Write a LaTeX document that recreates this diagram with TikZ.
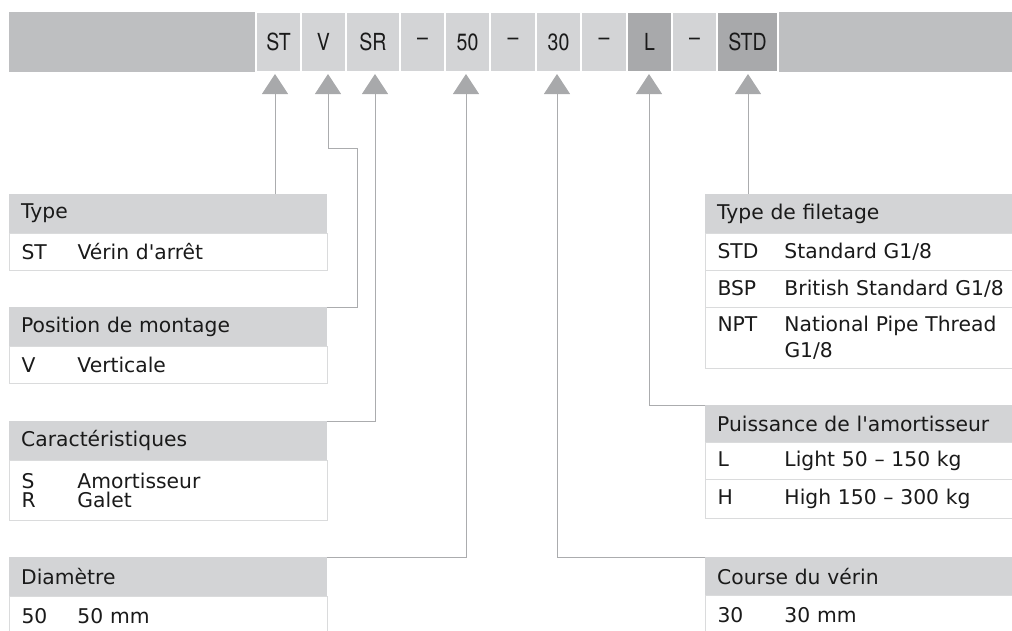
\documentclass[tikz,border=0pt]{standalone}
\usepackage{fontspec}
\setmainfont[Ligatures=TeXOff]{DejaVu Sans}
\newfontfamily\codefont[FakeStretch=0.83]{TeX Gyre Heros}
\usetikzlibrary{arrows.meta}

\definecolor{barGray}{HTML}{BEBFC1}
\definecolor{cellGray}{HTML}{D3D4D6}
\definecolor{darkGray}{HTML}{A8A9AB}
\definecolor{lineGray}{HTML}{ABACAE}
\definecolor{rimGray}{HTML}{DADBDC}
\definecolor{inkGray}{HTML}{1A1A1A}

\newcommand{\lcode}[1]{\makebox[56pt][l]{#1}}
\newcommand{\rcode}[1]{\makebox[67pt][l]{#1}}

\begin{document}
\begin{tikzpicture}[x=1pt, y=-1pt, font=\fontsize{20.3}{24}\selectfont, text=inkGray]
	\tikzstyle{cellStyle} = [fill=cellGray, draw=white, line width=1.5pt, minimum height=60pt, inner sep=0pt, font=\codefont\fontsize{23.5}{28}\selectfont]
	\tikzstyle{darkCellStyle} = [cellStyle, fill=darkGray]
	\tikzstyle{headStyle} = [anchor=north west, fill=cellGray, minimum height=39pt, inner xsep=12pt, inner ysep=0pt, text width=294pt, align=left]
	\tikzstyle{rowStyle} = [anchor=north west, fill=white, draw=rimGray, line width=1pt, minimum height=37pt, inner xsep=12pt, inner ysep=0pt, text width=294pt, align=left]
	\tikzstyle{rightHeadStyle} = [headStyle, text width=296pt]
	\tikzstyle{rightRowStyle} = [rowStyle, text width=296pt]
	\tikzstyle{linkStyle} = [draw=lineGray, line width=1pt, -{Triangle[width=26pt, length=20pt, color=darkGray]}]
	\useasboundingbox (0,0) rectangle (1012,630);
	% order code bar
	\fill[barGray] (9,12) rectangle (256,72);
	\fill[barGray] (778,12) rectangle (1013,72);
	\node[cellStyle, minimum width=45pt] (cST) at (278.5,42) {ST};
	\node[cellStyle, minimum width=45pt] (cV) at (323.5,42) {V};
	\node[cellStyle, minimum width=54pt] (cSR) at (373,42) {SR};
	\node[cellStyle, minimum width=45pt] (cDashA) at (422.5,42) {–};
	\node[cellStyle, minimum width=45pt] (c50) at (467.5,42) {50};
	\node[cellStyle, minimum width=46pt] (cDashB) at (513,42) {–};
	\node[cellStyle, minimum width=45pt] (c30) at (558.5,42) {30};
	\node[cellStyle, minimum width=46pt] (cDashC) at (604,42) {–};
	\node[darkCellStyle, minimum width=45pt] (cL) at (649.5,42) {L};
	\node[cellStyle, minimum width=45pt] (cDashD) at (694.5,42) {–};
	\node[darkCellStyle, minimum width=61pt] (cSTD) at (747.5,42) {STD};
	% arrow tips under the code
	\coordinate (tipST) at (275,74);
	\coordinate (tipV) at (328,74);
	\coordinate (tipSR) at (375,74);
	\coordinate (tip50) at (466,74);
	\coordinate (tip30) at (557,74);
	\coordinate (tipL) at (649,74);
	\coordinate (tipSTD) at (748,74);
	% left column
	\node[headStyle] (type) at (9,194) {Type};
	\node[rowStyle] (typeRow) at (9,233) {\lcode{ST}Vérin d'arrêt};
	\node[headStyle] (pos) at (9,307) {Position de montage};
	\node[rowStyle] (posRow) at (9,346) {\lcode{V}Verticale};
	\node[headStyle] (car) at (9,421) {Caractéristiques};
	\node[rowStyle, minimum height=60pt, font=\fontsize{20.3}{19.5}\selectfont] (carRow) at (9,460) {\lcode{S}Amortisseur\\\lcode{R}Galet};
	\node[headStyle] (dia) at (9,557) {Diamètre};
	\node[rowStyle, minimum height=40pt] (diaRow) at (9,596) {\lcode{50}50 mm};
	% right column
	\node[rightHeadStyle] (fil) at (705,194) {Type de filetage};
	\node[rightRowStyle] (filRowA) at (705,233) {\rcode{STD}Standard G1/8};
	\node[rightRowStyle] (filRowB) at (705,270) {\rcode{BSP}British Standard G1/8};
	\node[rightRowStyle, minimum height=61pt, font=\fontsize{20.3}{26}\selectfont] (filRowC) at (705,307) {\rcode{NPT}National Pipe Thread\\\rcode{}G1/8};
	\node[rightHeadStyle, minimum height=37pt] (puis) at (705,405) {Puissance de l'amortisseur};
	\node[rightRowStyle] (puisRowA) at (705,442) {\rcode{L}Light 50 – 150 kg};
	\node[rightRowStyle, minimum height=39pt] (puisRowB) at (705,479) {\rcode{H}High 150 – 300 kg};
	\node[rightHeadStyle, minimum height=38pt] (course) at (705,557) {Course du vérin};
	\node[rightRowStyle, minimum height=40pt] (courseRow) at (705,595) {\rcode{30}30 mm};
	% connectors
	\draw[linkStyle] (tipST |- type.north) -- (tipST);
	\draw[linkStyle] (pos.north east) -| (357,148) -| (tipV);
	\draw[linkStyle] (car.north east) -| (tipSR);
	\draw[linkStyle] (dia.north east) -| (tip50);
	\draw[linkStyle] (course.north west) -| (tip30);
	\draw[linkStyle] (puis.north west) -| (tipL);
	\draw[linkStyle] (tipSTD |- fil.north) -- (tipSTD);
\end{tikzpicture}
\end{document}
